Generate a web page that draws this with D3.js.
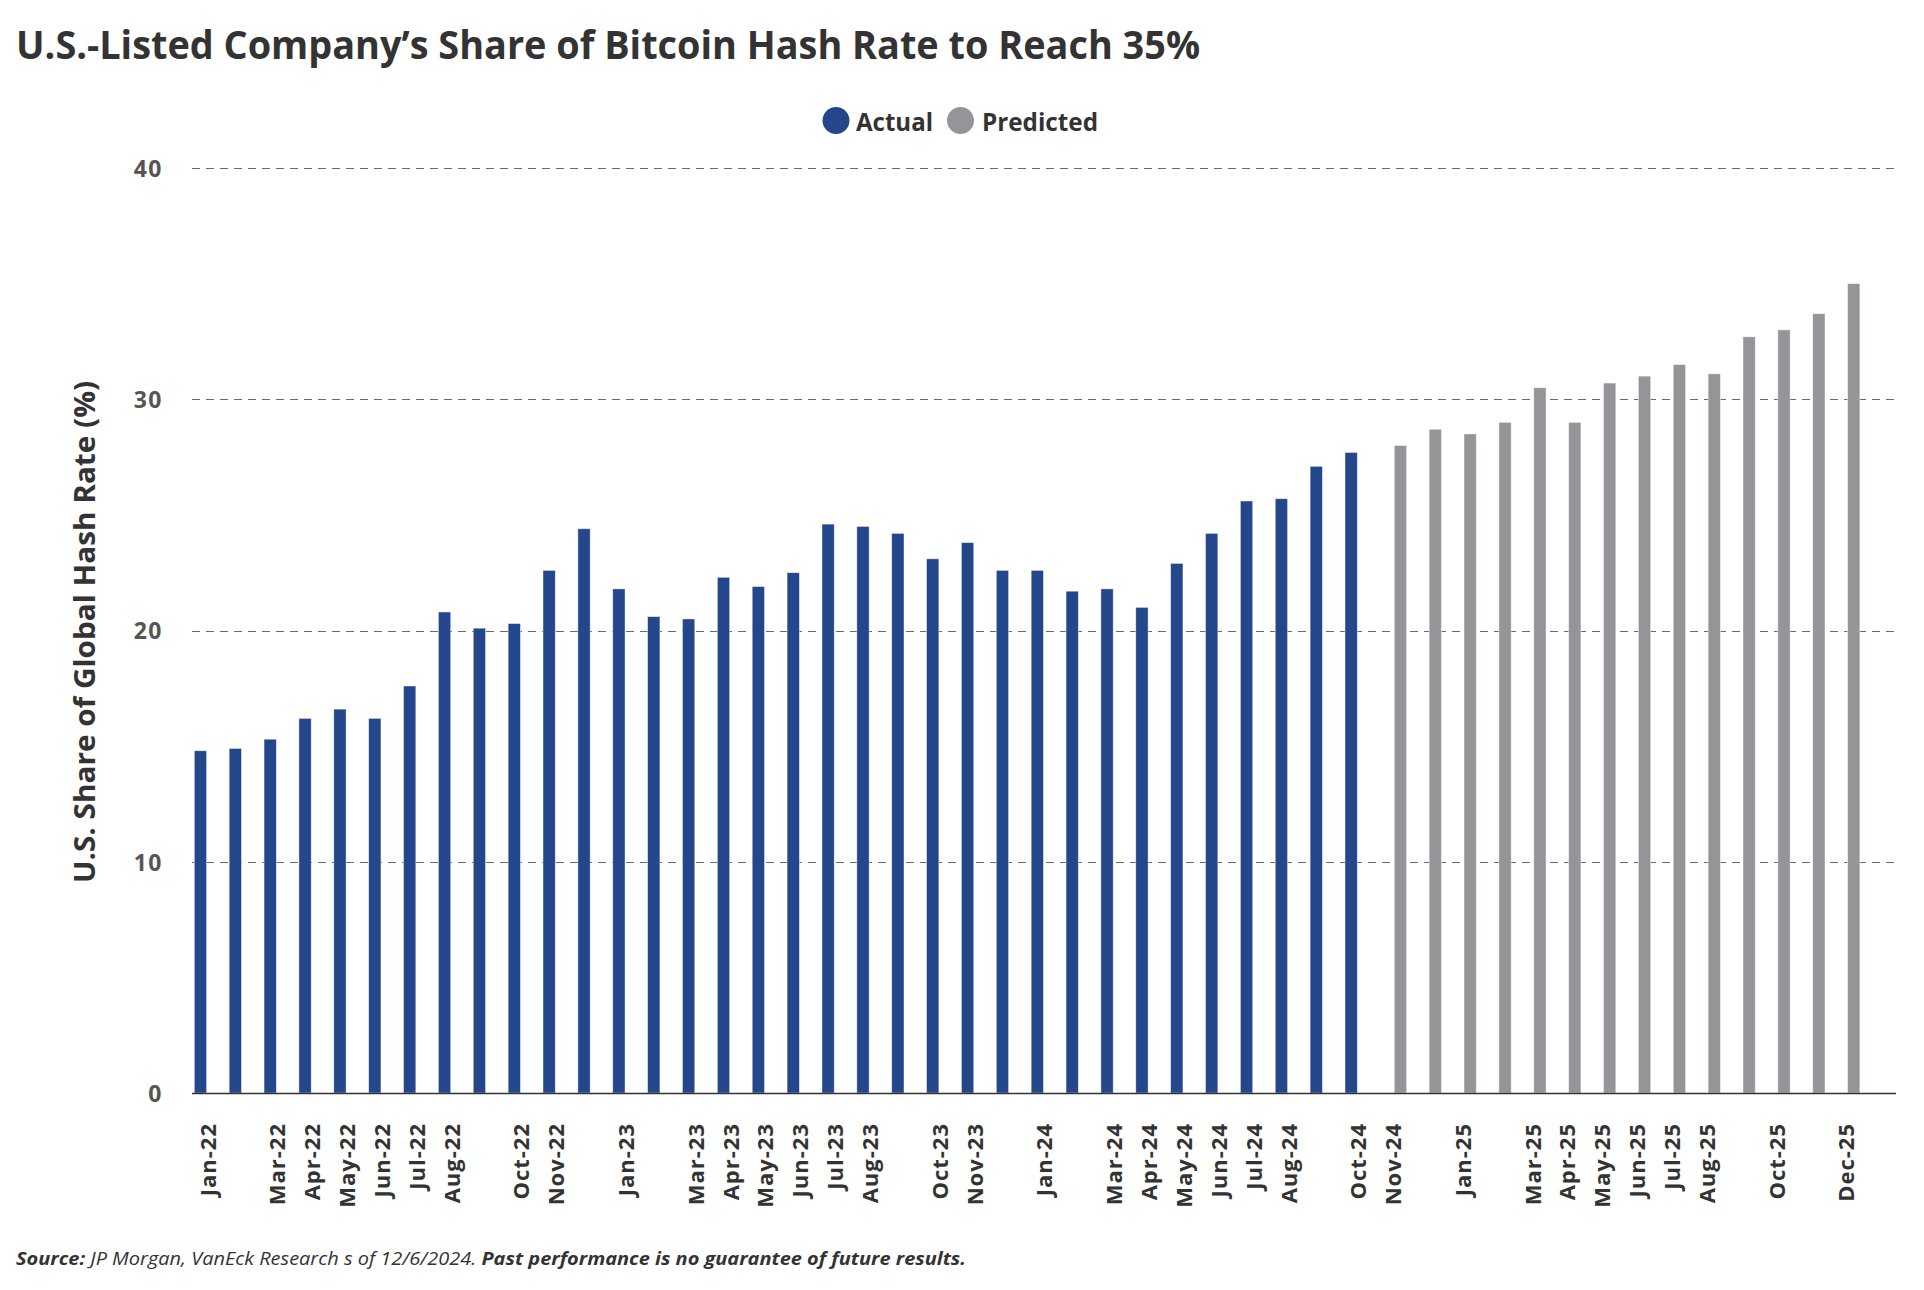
<!DOCTYPE html>
<html>
<head>
<meta charset="utf-8">
<script src="https://cdn.jsdelivr.net/npm/d3@7"></script>
<style>
  html, body { margin: 0; padding: 0; background: #fff; }
  svg { display: block; }
  text { font-family: "Open Sans", "Noto Sans", sans-serif; }
</style>
</head>
<body>
<svg id="chart" width="1924" height="1290"></svg>
<script>
// ---------- DATA ----------
const months = [
  "Jan-22","Feb-22","Mar-22","Apr-22","May-22","Jun-22","Jul-22","Aug-22","Sep-22","Oct-22","Nov-22","Dec-22",
  "Jan-23","Feb-23","Mar-23","Apr-23","May-23","Jun-23","Jul-23","Aug-23","Sep-23","Oct-23","Nov-23","Dec-23",
  "Jan-24","Feb-24","Mar-24","Apr-24","May-24","Jun-24","Jul-24","Aug-24","Sep-24","Oct-24","Nov-24","Dec-24",
  "Jan-25","Feb-25","Mar-25","Apr-25","May-25","Jun-25","Jul-25","Aug-25","Sep-25","Oct-25","Nov-25","Dec-25"
];
// Actual: Jan-22 .. Oct-24
const actualValues = [
  14.8, 14.9, 15.3, 16.2, 16.6, 16.2, 17.6, 20.8, 20.1, 20.3, 22.6, 24.4,
  21.8, 20.6, 20.5, 22.3, 21.9, 22.5, 24.6, 24.5, 24.2, 23.1, 23.8, 22.6,
  22.6, 21.7, 21.8, 21.0, 22.9, 24.2, 25.6, 25.7, 27.1, 27.7
];
// Predicted: Nov-24 .. Dec-25
const predictedValues = [
  28.0, 28.7, 28.5, 29.0, 30.5, 29.0, 30.7, 31.0, 31.5, 31.1, 32.7, 33.0, 33.7, 35.0
];
// Tick labels shown on the x axis
const shownTickLabels = [
  "Jan-22","Mar-22","Apr-22","May-22","Jun-22","Jul-22","Aug-22","Oct-22","Nov-22",
  "Jan-23","Mar-23","Apr-23","May-23","Jun-23","Jul-23","Aug-23","Oct-23","Nov-23",
  "Jan-24","Mar-24","Apr-24","May-24","Jun-24","Jul-24","Aug-24","Oct-24","Nov-24",
  "Jan-25","Mar-25","Apr-25","May-25","Jun-25","Jul-25","Aug-25","Oct-25","Dec-25"
];
const yTicks = [0, 10, 20, 30, 40];
const seriesNames = ["Actual", "Predicted"];
const seriesColors = ["#24468a", "#949599"];

const titleText = "U.S.-Listed Company\u2019s Share of Bitcoin Hash Rate to Reach 35%";
const yAxisTitle = "U.S. Share of Global Hash Rate (%)";

// ---------- BUILD ROWS ----------
const rows = months.map((m, i) => {
  const r = { month: m };
  r.Actual = i < actualValues.length ? actualValues[i] : null;
  const pi = i - (months.length - predictedValues.length);
  r.Predicted = pi >= 0 ? predictedValues[pi] : null;
  return r;
});

// ---------- LAYOUT ----------
const svg = d3.select("#chart");
const plotLeft = 192, plotRight = 1896, plotTop = 168, plotBottom = 1093;

const x0 = d3.scaleBand()
  .domain(months)
  .range([plotLeft, plotRight])
  .paddingInner(0.234)
  .paddingOuter(0.551)
  .align(0.06);

const x1 = d3.scaleBand()
  .domain(seriesNames)
  .range([0, x0.bandwidth()])
  .paddingInner(0.146);

const y = d3.scaleLinear().domain([0, 40]).range([plotBottom, plotTop]);
const color = d3.scaleOrdinal().domain(seriesNames).range(seriesColors);

// ---------- TITLE ----------
svg.append("text")
  .attr("x", 16).attr("y", 59)
  .attr("font-size", 40).attr("font-weight", 700)
  .attr("fill", "#333")
  .attr("textLength", 1184).attr("lengthAdjust", "spacingAndGlyphs")
  .text(titleText);

// ---------- LEGEND ----------
const legendItems = [
  { name: "Actual", cx: 836, tx: 856, w: 77 },
  { name: "Predicted", cx: 960.5, tx: 982, w: 116 }
];
const lg = svg.append("g");
legendItems.forEach(it => {
  lg.append("circle").attr("cx", it.cx).attr("cy", 120.5).attr("r", 13.5).attr("fill", color(it.name));
  lg.append("text").attr("x", it.tx).attr("y", 131)
    .attr("font-size", 25).attr("font-weight", 700).attr("fill", "#333")
    .attr("textLength", it.w).attr("lengthAdjust", "spacingAndGlyphs")
    .text(it.name);
});

// ---------- GRIDLINES ----------
svg.append("g")
  .selectAll("line")
  .data(yTicks.filter(t => t > 0))
  .join("line")
  .attr("x1", plotLeft).attr("x2", plotRight)
  .attr("y1", d => Math.round(y(d)) + 0.5).attr("y2", d => Math.round(y(d)) + 0.5)
  .attr("stroke", "#6a6a6a").attr("stroke-width", 1)
  .attr("stroke-dasharray", "8,6");

// ---------- Y AXIS ----------
const yAxis = d3.axisLeft(y).tickValues(yTicks).tickSize(0).tickPadding(0);
const yg = svg.append("g").attr("transform", `translate(163,0)`).call(yAxis);
yg.select(".domain").remove();
yg.selectAll("text")
  .attr("font-family", "\"Open Sans\", sans-serif")
  .attr("font-size", 23).attr("font-weight", 700)
  .attr("letter-spacing", 1.5)
  .attr("fill", "#555")
  .attr("dy", "0.36em");

svg.append("text")
  .attr("transform", `translate(95,632) rotate(-90)`)
  .attr("text-anchor", "middle")
  .attr("font-size", 29).attr("font-weight", 700).attr("fill", "#333")
  .attr("textLength", 502).attr("lengthAdjust", "spacingAndGlyphs")
  .text(yAxisTitle);

// ---------- BARS ----------
const groups = svg.append("g").selectAll("g")
  .data(rows)
  .join("g")
  .attr("transform", d => `translate(${x0(d.month)},0)`);

groups.selectAll("rect")
  .data(d => seriesNames.filter(s => d[s] != null).map(s => ({ key: s, value: d[s] })))
  .join("rect")
  .attr("x", d => x1(d.key))
  .attr("width", x1.bandwidth())
  .attr("y", d => y(d.value))
  .attr("height", d => y(0) - y(d.value))
  .attr("fill", d => color(d.key))
  .attr("stroke", "rgba(255,255,255,0.55)")
  .attr("stroke-width", 0.8);

// ---------- X AXIS ----------
const xAxis = d3.axisBottom(x0)
  .tickValues(shownTickLabels)
  .tickSize(0)
  .tickPadding(0);
const xg = svg.append("g").attr("transform", `translate(0,${plotBottom})`).call(xAxis);
xg.select(".domain").remove();
xg.selectAll("text")
  .attr("font-family", "\"Open Sans\", sans-serif")
  .attr("font-size", 22).attr("font-weight", 700)
  .attr("letter-spacing", 1)
  .attr("fill", "#333")
  .attr("text-anchor", "end")
  .attr("transform", "rotate(-90)")
  .attr("x", -30)
  .attr("y", 0)
  .attr("dy", "0.36em");

svg.append("line")
  .attr("x1", plotLeft).attr("x2", plotRight)
  .attr("y1", plotBottom + 0.5).attr("y2", plotBottom + 0.5)
  .attr("stroke", "#333").attr("stroke-width", 1.5);

// ---------- SOURCE ----------
const src = svg.append("text")
  .attr("x", 16).attr("y", 1265)
  .attr("font-size", 18).attr("font-style", "italic").attr("fill", "#333")
  .attr("textLength", 950).attr("lengthAdjust", "spacingAndGlyphs");
src.append("tspan").attr("font-weight", 700).text("Source:");
src.append("tspan").attr("font-weight", 400).text(" JP Morgan, VanEck Research s of 12/6/2024. ");
src.append("tspan").attr("font-weight", 700).text("Past performance is no guarantee of future results.");
</script>
</body>
</html>
